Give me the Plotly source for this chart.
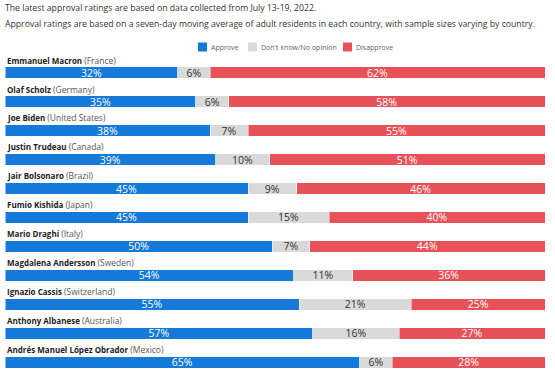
import plotly.graph_objects as go

leaders = ["Emmanuel Macron", "Olaf Scholz", "Joe Biden", "Justin Trudeau", "Jair Bolsonaro",
           "Fumio Kishida", "Mario Draghi", "Magdalena Andersson", "Ignazio Cassis",
           "Anthony Albanese", "Andrés Manuel López Obrador"]
countries = ["France", "Germany", "United States", "Canada", "Brazil", "Japan", "Italy",
             "Sweden", "Switzerland", "Australia", "Mexico"]
approve = [32, 35, 38, 39, 45, 45, 50, 54, 55, 57, 65]
dontknow = [6, 6, 7, 10, 9, 15, 7, 11, 21, 16, 6]
disapprove = [62, 58, 55, 51, 46, 40, 44, 36, 25, 27, 28]
series_names = ["Approve", "Don't know/No opinion", "Disapprove"]

title_lines = ["The latest approval ratings are based on data collected from July 13-19, 2022.",
               "Approval ratings are based on a seven-day moving average of adult residents in each country, with sample sizes varying by country."]

FONT = "Open Sans"
colors = ["#1479d8", "#d9d9d9", "#e75259"]
text_colors = ["white", "#333333", "white"]

W, H = 555, 370
ML, MR, MT, MB = 5, 10, 58, 2
PW, PH = W - ML - MR, H - MT - MB


def px_x(px):
    return (px - ML) / PW


def px_y(py):
    return 1 + (MT - py) / PH


fig = go.Figure()
for name, vals, color, tcolor in zip(series_names, [approve, dontknow, disapprove], colors, text_colors):
    fig.add_trace(go.Bar(
        y=leaders, x=vals, name=name, orientation="h",
        marker=dict(color=color, line=dict(color="white", width=0.5)),
        width=0.4,
        text=[f"{v}%" for v in vals], textposition="inside", insidetextanchor="middle",
        textangle=0,
        textfont=dict(color=tcolor, size=10.5, family=FONT),
        constraintext="none", hoverinfo="skip", showlegend=False,
    ))

annotations = []
shapes = []
for ldr, c in zip(leaders, countries):
    annotations.append(dict(
        x=0, xref="paper", y=ldr, yref="y", yshift=5, xanchor="left", yanchor="bottom",
        text=f"<b>{ldr}</b> <span style='color:#555555;font-size:8.5px'>({c})</span>",
        showarrow=False, font=dict(size=8, family=FONT, color="#222222"),
    ))
for line, py in zip(title_lines, [8, 24]):
    annotations.append(dict(
        x=px_x(3), xref="paper", y=px_y(py), yref="paper", showarrow=False, text=line,
        xanchor="left", yanchor="middle", font=dict(size=8.7, family=FONT, color="#333333"),
    ))

# legend drawn manually (compact layout)
for name, color, sx in zip(series_names, colors, [198, 248, 343]):
    shapes.append(dict(type="rect", xref="paper", yref="paper",
                       x0=px_x(sx), x1=px_x(sx + 9), y0=px_y(51.5), y1=px_y(42.5),
                       fillcolor=color, line=dict(width=0)))
    annotations.append(dict(
        x=px_x(sx + 11), xref="paper", y=px_y(47), yref="paper", showarrow=False, text=name,
        xanchor="left", yanchor="middle", font=dict(size=7, family=FONT, color="#666666"),
    ))

fig.update_layout(
    width=W, height=H,
    margin=dict(l=ML, r=MR, t=MT, b=MB, autoexpand=False),
    barmode="stack", barnorm="percent",
    plot_bgcolor="white", paper_bgcolor="white",
    showlegend=False,
    xaxis=dict(visible=False, range=[0, 100], fixedrange=True),
    yaxis=dict(visible=False, categoryorder="array", categoryarray=leaders,
               range=[10.19, -0.5], fixedrange=True),
    annotations=annotations,
    shapes=shapes,
    font=dict(family=FONT),
)

fig.write_html("out.html", config={"displayModeBar": False},
               post_script="document.body.style.margin='0';document.body.style.overflow='hidden';")
